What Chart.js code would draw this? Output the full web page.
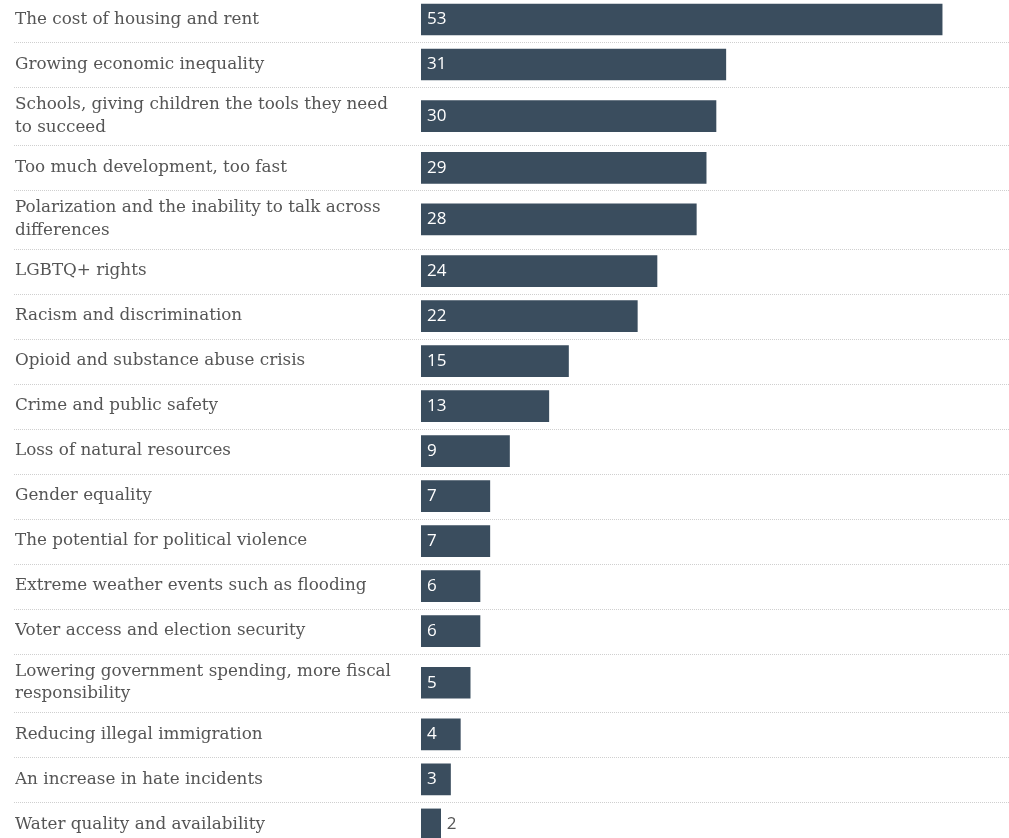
<!DOCTYPE html>
<html>
<head>
<meta charset="utf-8">
<script src="https://cdn.jsdelivr.net/npm/chart.js@4/dist/chart.umd.min.js"></script>
<style>
  html, body { margin: 0; padding: 0; background: #ffffff; }
  #wrap { width: 1009px; height: 838px; position: relative; }
</style>
</head>
<body>
<div id="wrap"><canvas id="c"></canvas></div>
<script>
// ---- Data ----
const categories = [
  ["The cost of housing and rent"],
  ["Growing economic inequality"],
  ["Schools, giving children the tools they need", "to succeed"],
  ["Too much development, too fast"],
  ["Polarization and the inability to talk across", "differences"],
  ["LGBTQ+ rights"],
  ["Racism and discrimination"],
  ["Opioid and substance abuse crisis"],
  ["Crime and public safety"],
  ["Loss of natural resources"],
  ["Gender equality"],
  ["The potential for political violence"],
  ["Extreme weather events such as flooding"],
  ["Voter access and election security"],
  ["Lowering government spending, more fiscal", "responsibility"],
  ["Reducing illegal immigration"],
  ["An increase in hate incidents"],
  ["Water quality and availability"]
];
const values = [53, 31, 30, 29, 28, 24, 22, 15, 13, 9, 7, 7, 6, 6, 5, 4, 3, 2];

// ---- Layout (row heights derived from number of label lines) ----
const SINGLE_ROW = 45, EXTRA_LINE = 13.3;
const rowHeights = categories.map(c => SINGLE_ROW + EXTRA_LINE * (c.length - 1));
const boundaries = [0];
rowHeights.forEach(h => boundaries.push(boundaries[boundaries.length - 1] + h));
const centers = rowHeights.map((h, i) => boundaries[i] + h / 2);

const BAR_COLOR = '#3a4d5e';
const TEXT_COLOR = '#555555';

const separatorPlugin = {
  id: 'separators',
  beforeDatasetsDraw(chart) {
    const ctx = chart.ctx, y = chart.scales.y;
    ctx.save();
    ctx.strokeStyle = '#cfcfcf';
    ctx.lineWidth = 1;
    ctx.setLineDash([1, 1]);
    for (let i = 1; i < boundaries.length - 1; i++) {
      const py = Math.round(y.getPixelForValue(boundaries[i])) + 0.5;
      ctx.beginPath();
      ctx.moveTo(14, py);
      ctx.lineTo(chart.width, py);
      ctx.stroke();
    }
    ctx.restore();
  }
};

const valueLabelPlugin = {
  id: 'valueLabels',
  afterDatasetsDraw(chart) {
    const ctx = chart.ctx;
    const meta = chart.getDatasetMeta(0);
    ctx.save();
    ctx.font = '17px "Open Sans", sans-serif';
    ctx.textBaseline = 'middle';
    ctx.textAlign = 'left';
    meta.data.forEach((el, i) => {
      const v = values[i];
      const w = Math.abs(el.x - el.base);
      if (w > 26) {
        ctx.fillStyle = '#ffffff';
        ctx.fillText(String(v), el.base + 6, el.y);
      } else {
        ctx.fillStyle = TEXT_COLOR;
        ctx.fillText(String(v), el.x + 6, el.y);
      }
    });
    ctx.restore();
  }
};

new Chart(document.getElementById('c'), {
  type: 'bar',
  data: {
    datasets: [{
      data: values.map((v, i) => ({ x: v, y: centers[i] })),
      backgroundColor: BAR_COLOR,
      borderWidth: 0,
      barThickness: 31
    }]
  },
  options: {
    indexAxis: 'y',
    responsive: true,
    maintainAspectRatio: false,
    animation: false,
    layout: { padding: { left: 15, right: 0, top: 0, bottom: 0 } },
    plugins: { legend: { display: false }, tooltip: { enabled: false } },
    scales: {
      x: {
        type: 'linear',
        display: false,
        min: 0,
        max: 59.8
      },
      y: {
        type: 'linear',
        reverse: true,
        offset: false,
        min: 3,
        max: 841,
        grid: { display: false, drawTicks: false, offset: false },
        border: { display: false },
        afterBuildTicks(scale) {
          scale.ticks = centers.map(v => ({ value: v }));
        },
        afterFit(scale) {
          scale.width = 406;
          scale.paddingTop = 0;
          scale.paddingBottom = 0;
        },
        ticks: {
          autoSkip: false,
          crossAlign: 'far',
          padding: 0,
          color: TEXT_COLOR,
          font: { family: '"DejaVu Serif", serif', size: 16.8, lineHeight: 1.35 },
          callback(value, index) { return categories[index]; }
        }
      }
    }
  },
  plugins: [separatorPlugin, valueLabelPlugin]
});
</script>
</body>
</html>
